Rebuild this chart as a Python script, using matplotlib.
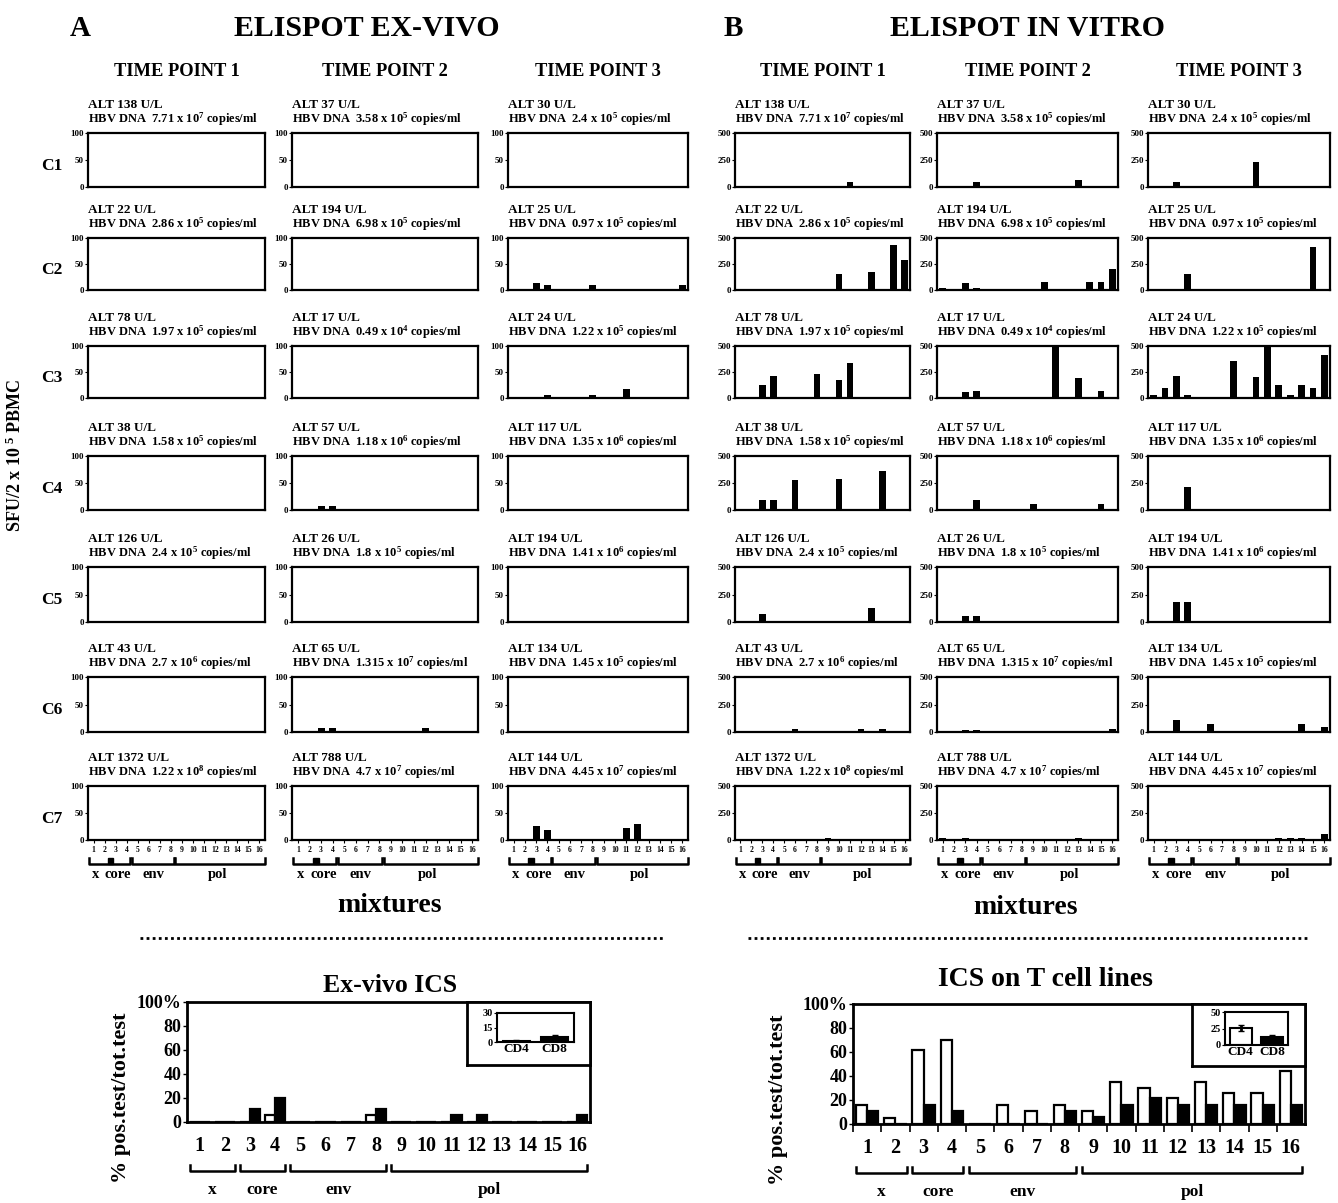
import matplotlib
matplotlib.use("Agg")
import matplotlib.pyplot as plt
import matplotlib.transforms as mtransforms
from matplotlib.patches import Rectangle

plt.rcParams['font.family'] = ['Liberation Serif', 'DejaVu Serif']
plt.rcParams['font.weight'] = 'bold'
plt.rcParams['mathtext.fontset'] = 'custom'
plt.rcParams['mathtext.rm'] = 'Liberation Serif:bold'
plt.rcParams['mathtext.it'] = 'Liberation Serif:bold'
plt.rcParams['mathtext.bf'] = 'Liberation Serif:bold'

W, H = 1338, 1203

# ---- data ----
rows = ["C1", "C2", "C3", "C4", "C5", "C6", "C7"]
time_points = ["TIME POINT 1", "TIME POINT 2", "TIME POINT 3"]
mixtures = list(range(1, 17))
groups = ["x", "core", "env", "pol"]
group_spans = [(1, 2), (3, 4), (5, 8), (9, 16)]

alt = [[138, 37, 30],
       [22, 194, 25],
       [78, 17, 24],
       [38, 57, 117],
       [126, 26, 194],
       [43, 65, 134],
       [1372, 788, 144]]
dna_mant = [["7.71", "3.58", "2.4"],
            ["2.86", "6.98", "0.97"],
            ["1.97", "0.49", "1.22"],
            ["1.58", "1.18", "1.35"],
            ["2.4", "1.8", "1.41"],
            ["2.7", "1.315", "1.45"],
            ["1.22", "4.7", "4.45"]]
dna_exp = [[7, 5, 5],
           [5, 5, 5],
           [5, 4, 5],
           [5, 6, 6],
           [5, 5, 6],
           [6, 7, 5],
           [8, 7, 7]]

# SFU per mixture, (row, time point) -> {mixture: value}; missing = 0
exvivo = {
    (1, 2): {3: 13, 4: 9, 8: 9, 16: 9},
    (2, 2): {4: 5, 8: 5, 11: 18},
    (3, 1): {3: 8, 4: 8},
    (5, 1): {3: 8, 4: 8, 12: 8},
    (6, 2): {3: 26, 4: 19, 11: 22, 12: 30},
}
invitro = {
    (0, 0): {11: 50},
    (0, 1): {4: 45, 13: 65},
    (0, 2): {3: 45, 10: 230},
    (1, 0): {10: 155, 13: 170, 15: 430, 16: 290},
    (1, 1): {1: 23, 3: 66, 4: 23, 10: 80, 14: 80, 15: 80, 16: 204},
    (1, 2): {4: 158, 15: 409},
    (2, 0): {3: 123, 4: 210, 8: 233, 10: 177, 11: 333},
    (2, 1): {3: 58, 4: 69, 11: 500, 13: 190, 15: 69},
    (2, 2): {1: 33, 2: 100, 3: 210, 4: 33, 8: 360, 10: 200, 11: 500,
             12: 127, 13: 33, 14: 123, 15: 100, 16: 410},
    (3, 0): {3: 90, 4: 90, 6: 280, 10: 285, 14: 365},
    (3, 1): {4: 90, 9: 55, 15: 55},
    (3, 2): {4: 210},
    (4, 0): {3: 70, 13: 127},
    (4, 1): {3: 52, 4: 52},
    (4, 2): {3: 180, 4: 180},
    (5, 0): {6: 25, 12: 25, 14: 30, 16: 12},
    (5, 1): {3: 18, 4: 18, 16: 30},
    (5, 2): {3: 110, 6: 70, 14: 75, 16: 45},
    (6, 0): {3: 10, 4: 10, 9: 23},
    (6, 1): {1: 21, 3: 21, 13: 18},
    (6, 2): {12: 15, 13: 15, 14: 15, 16: 60},
}

# ICS, % positive tests
ics_exvivo_cd4 = [0, 0, 0, 6, 0, 0, 0, 6, 0, 0, 0, 0, 0, 0, 0, 0]
ics_exvivo_cd8 = [0, 0, 11, 20, 0, 0, 0, 11, 0, 0, 6, 6, 0, 0, 0, 6]
ics_lines_cd4 = [16, 5, 62, 70, 0, 16, 11, 16, 11, 35, 30, 22, 35, 26, 26, 44]
ics_lines_cd8 = [11, 0, 16, 11, 0, 0, 0, 11, 6, 16, 22, 16, 16, 16, 16, 16]
inset_labels = ["CD4", "CD8"]
inset_exvivo = [1, 5]
inset_exvivo_err = [1, 2]
inset_lines = [26, 12]
inset_lines_err = [5, 3]

# ---- layout (pixels) ----
colA = [(88, 265), (292, 478), (508, 688)]
colB = [(735, 910), (937, 1118), (1148, 1330)]
row_y = [(133, 187), (238, 290), (346, 398), (456, 510),
         (567, 622), (677, 732), (786, 840)]

fig = plt.figure(figsize=(W / 100, H / 100), dpi=100)


def px_axes(x0, y0, x1, y1):
    return fig.add_axes([x0 / W, 1 - y1 / H, (x1 - x0) / W, (y1 - y0) / H])


def ftext(x, y, s, **kw):
    return fig.text(x / W, 1 - y / H, s, **kw)


def elispot_panel(cols, data, ymax):
    for r in range(len(rows)):
        y0, y1 = row_y[r]
        for c, (x0, x1) in enumerate(cols):
            ax = px_axes(x0, y0, x1, y1)
            vals = data.get((r, c), {})
            heights = [vals.get(m, 0) for m in mixtures]
            ax.bar(mixtures, heights, width=0.6, color='black')
            ax.set_xlim(0.5, 16.5)
            ax.set_ylim(0, ymax)
            for sp in ax.spines.values():
                sp.set_linewidth(1.6)
            ax.set_yticks([0, ymax // 2, ymax])
            ax.tick_params(axis='y', labelsize=6.5, length=2, width=0.8, pad=1)
            ftext(x0, y0 - 28, f"ALT {alt[r][c]} U/L", fontsize=9.5,
                  ha='left', va='center')
            ftext(x0, y0 - 14,
                  f"HBV DNA  {dna_mant[r][c]} x 10$^{{{dna_exp[r][c]}}}$ copies/ml",
                  fontsize=9, ha='left', va='center')
            if r == len(rows) - 1:
                ax.set_xticks(mixtures)
                ax.set_xticklabels([str(m) for m in mixtures])
                ax.tick_params(axis='x', labelsize=5.5, length=2, width=0.8, pad=2)
                tr = mtransforms.blended_transform_factory(ax.transData, ax.transAxes)
                spans = [(0.55, 4.3), (4.45, 8.25), (8.4, 16.5)]
                for a, b in spans:
                    ax.plot([a, a, b, b], [-0.34, -0.44, -0.44, -0.34], color='black',
                            lw=1.8, transform=tr, clip_on=False)
                ax.add_patch(Rectangle((2.3, -0.44), 0.5, 0.1, transform=tr,
                                       color='black', clip_on=False))
                for g, xpos in zip(groups, [1.2, 3.2, 6.4, 12.2]):
                    ax.text(xpos, -0.64, g, transform=tr, ha='center', va='center',
                            fontsize=10.5)
            else:
                ax.set_xticks([])


elispot_panel(colA, exvivo, 100)
elispot_panel(colB, invitro, 500)

# headings
ftext(80, 28, "A", fontsize=21, ha='center', va='center')
ftext(367, 28, "ELISPOT EX-VIVO", fontsize=21.5, ha='center', va='center')
ftext(733, 28, "B", fontsize=21, ha='center', va='center')
ftext(1028, 28, "ELISPOT IN VITRO", fontsize=21.5, ha='center', va='center')
for cols in (colA, colB):
    for (x0, x1), tp in zip(cols, time_points):
        ftext((x0 + x1) / 2, 72, tp, fontsize=13.3, ha='center', va='center')
for r, name in enumerate(rows):
    y0, y1 = row_y[r]
    ftext(52, (y0 + y1) / 2 + 6, name, fontsize=12.5, ha='center', va='center')
ftext(15, 455, "SFU/2 x 10 $^5$ PBMC", fontsize=13, rotation=90,
      ha='center', va='center')
ftext(389, 905, "mixtures", fontsize=20, ha='center', va='center')
ftext(1025, 907, "mixtures", fontsize=20, ha='center', va='center')

# dotted separators
sep = fig.add_axes([0, 0, 1, 1], facecolor='none')
sep.set_xlim(0, W)
sep.set_ylim(H, 0)
sep.axis('off')
sep.plot([140, 665], [938, 938], ls=(0, (1, 1.2)), color='black', lw=2)
sep.plot([748, 1310], [938, 938], ls=(0, (1, 1.2)), color='black', lw=2)


def ics_panel(box, inset_box, inner_box, cd4, cd8, ins_vals, ins_err, ins_max,
              title, title_xy, ticks_between):
    ax = px_axes(*box)
    pos = mixtures
    ax.bar([p - 0.2 for p in pos], cd4, width=0.4, color='white',
           edgecolor='black', lw=1.6)
    ax.bar([p + 0.2 for p in pos], cd8, width=0.4, color='black',
           edgecolor='black', lw=1.6)
    ax.set_xlim(0.5, 16.5)
    ax.set_ylim(0, 100)
    for sp in ax.spines.values():
        sp.set_linewidth(2)
    ax.set_yticks([0, 20, 40, 60, 80, 100])
    ax.set_yticklabels(["0", "20", "40", "60", "80", "100%"])
    ax.tick_params(axis='y', labelsize=13, length=3, width=1, pad=1)
    ax.set_xticks(pos)
    ax.set_xticklabels([str(m) for m in pos])
    ax.tick_params(axis='x', labelsize=14.5, length=0, pad=10)
    if ticks_between:
        ax.set_xticks([p + 0.5 for p in pos[:-1]] + [0.5], minor=True)
        ax.tick_params(axis='x', which='minor', length=6, width=1.2)
    tr = mtransforms.blended_transform_factory(ax.transData, ax.transAxes)
    for g, (a, b) in zip(groups, group_spans):
        ax.plot([a - 0.4, a - 0.4, b + 0.4, b + 0.4], [-0.36, -0.41, -0.41, -0.36],
                color='black', lw=1.8, transform=tr, clip_on=False)
        ax.text((a + b) / 2, -0.57, g, transform=tr, ha='center', va='center',
                fontsize=12.5)
    ax.text(-0.165, 0.2, "% pos.test/tot.test", transform=ax.transAxes, rotation=90,
            ha='center', va='center', fontsize=16)
    ftext(title_xy[0], title_xy[1], title, fontsize=title_xy[2], ha='center',
          va='center')

    outer = px_axes(*inset_box)
    outer.set_xticks([])
    outer.set_yticks([])
    for sp in outer.spines.values():
        sp.set_linewidth(2)
    inner = px_axes(*inner_box)
    colors = ['white', 'black']
    inner.bar([0, 1], ins_vals, width=0.7, color=colors, edgecolor='black', lw=1.5,
              yerr=ins_err, error_kw=dict(ecolor='black', elinewidth=2, capsize=2))
    inner.set_xlim(-0.5, 1.5)
    inner.set_ylim(0, ins_max)
    inner.set_yticks([0, ins_max / 2, ins_max])
    inner.set_yticklabels([str(int(v)) for v in [0, ins_max / 2, ins_max]])
    inner.tick_params(axis='y', labelsize=7.5, length=2, pad=1)
    inner.set_xticks([0, 1])
    inner.set_xticklabels(inset_labels)
    inner.tick_params(axis='x', labelsize=9.5, length=0, pad=1)
    for sp in inner.spines.values():
        sp.set_linewidth(1.5)


ics_panel((187, 1002, 590, 1122), (467, 1002, 590, 1065), (497, 1013, 574, 1042),
          ics_exvivo_cd4, ics_exvivo_cd8, inset_exvivo, inset_exvivo_err, 30,
          "Ex-vivo ICS", (390, 985, 18.5), False)
ics_panel((853, 1004, 1305, 1124), (1192, 1004, 1305, 1066), (1225, 1012, 1288, 1045),
          ics_lines_cd4, ics_lines_cd8, inset_lines, inset_lines_err, 50,
          "ICS on T cell lines", (1045, 980, 20), True)

fig.savefig("out.png", dpi=100)
